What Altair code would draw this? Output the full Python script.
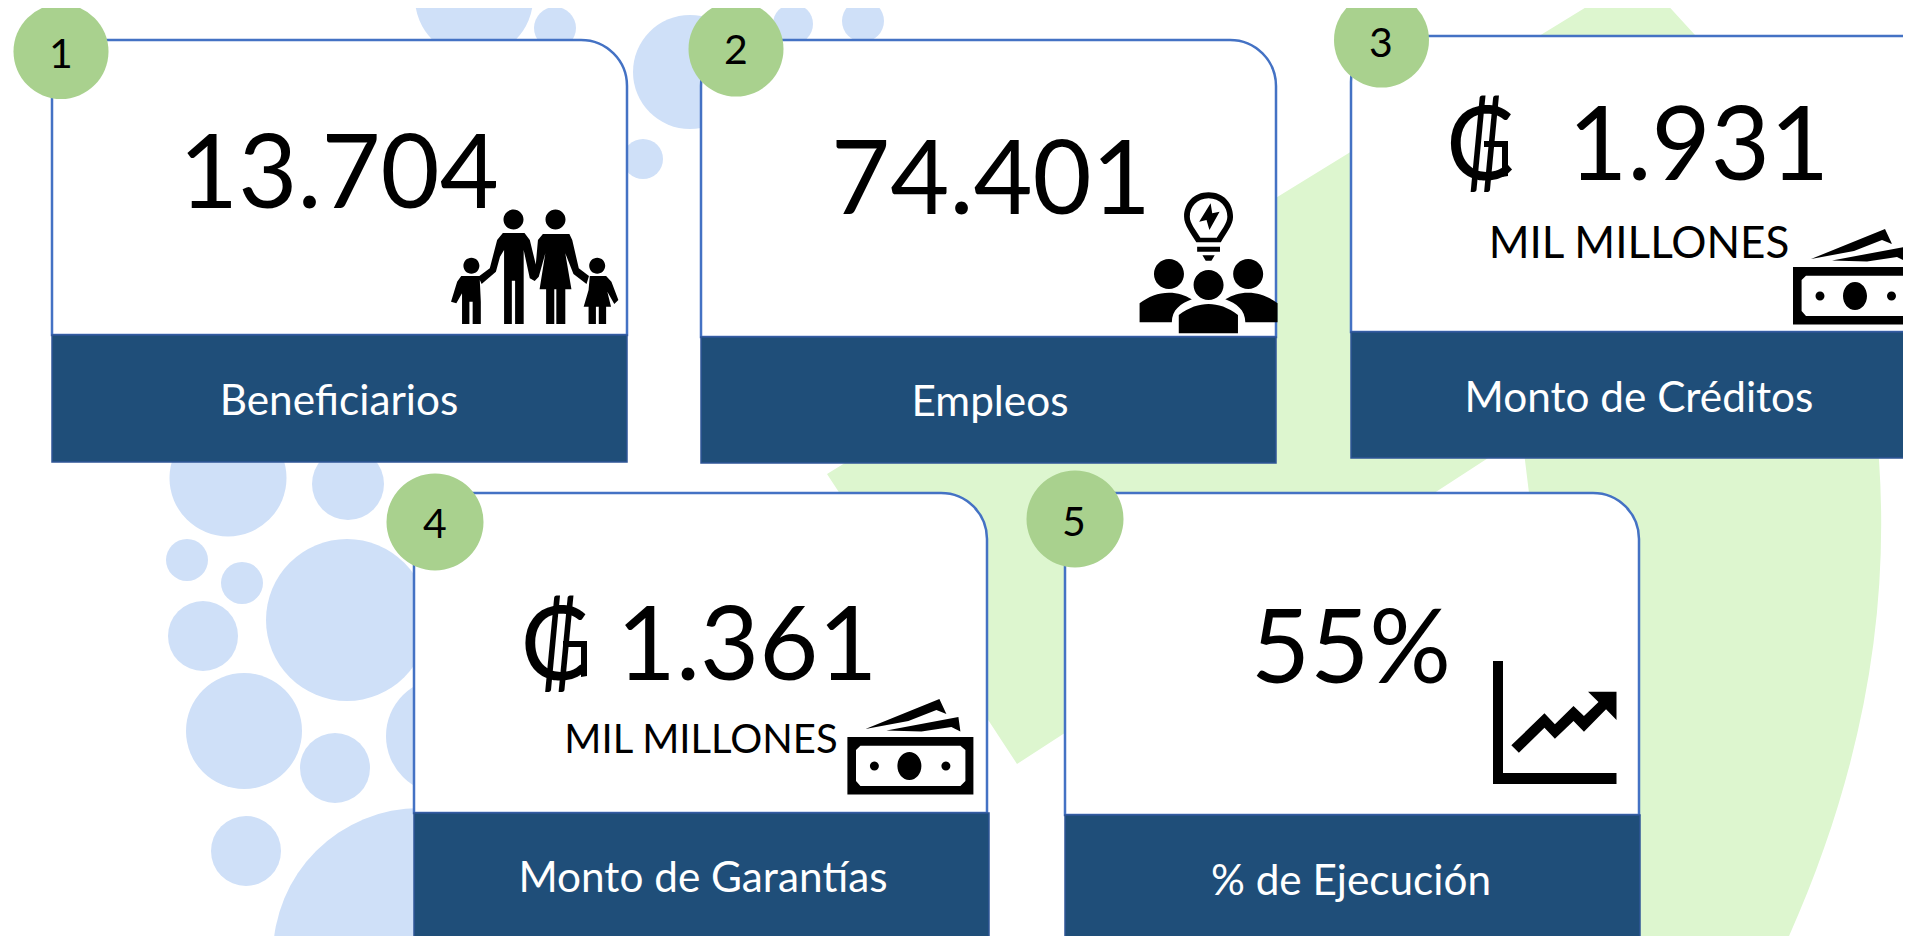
import altair as alt
import pandas as pd

# ---------- content ----------
numbers = ["13.704", "74.401", "₡\u00a0\u00a01.931", "₡\u00a01.361", "55%"]
labels = ["Beneficiarios", "Empleos", "Monto de Créditos", "Monto de Garantías", "% de Ejecución"]
badges = ["1", "2", "3", "4", "5"]
units = ["MIL MILLONES", "MIL MILLONES"]

# ---------- layout (full-size pixels) ----------
card_left = [52, 701, 1351, 414, 1065]
card_right = [627, 1276, 1990, 987, 1639]
card_top = [40, 40, 36, 493, 493]
band_right = [627, 1276, 1990, 989, 1640]
band_top = [335, 337, 332, 813, 815]
card_bottom = [462, 463, 458, 1000, 1000]
badge_x = [61, 736, 1381.5, 435, 1075]
badge_y = [51.5, 49, 40, 522, 519]
badge_r = [47.5, 47.5, 47.5, 48.5, 48.5]
badge_text_x = [61, 736, 1381, 435, 1074]
badge_base = [68, 64, 57, 538, 536]
number_x = [339, 991, 1637.5, 699, 1351]
number_base = [208, 214, 180, 680, 683]
number_size = [102, 102, 102, 102, 102]
label_x = [339, 990, 1639, 703, 1351]
label_base = [415, 416, 412, 892, 895]
unit_x = [1639, 701]
unit_base = [258, 753]
unit_size = [44, 40]

bubble_x = [474, 555, 607, 690, 793, 863, 730, 643, 228, 348, 187, 242, 347, 203, 244, 335, 444, 246, 420]
bubble_y = [-2, 28, -94, 72, 24, 21, -40, 159, 478, 484, 560, 583, 620, 636, 731, 768, 736, 851, 955]
bubble_r = [59, 21, 100, 57, 20, 21, 42, 20, 58.5, 36, 21, 21, 81, 35, 58, 35, 58, 35, 147]

BLUE = "#CFE0F8"
GREEN_BG = "#DDF6CF"
BADGE = "#A9D18E"
NAVY = "#1F4E79"
EDGE = "#4472C4"
FONT = "Lato, 'Noto Sans', 'DejaVu Sans', sans-serif"


# ---------- vector icon helper: absolute pixels to a symbol path ----------
class Icon:
    def __init__(self, cx, cy, half):
        self.cx, self.cy, self.h = cx, cy, half
        self.d = []

    def _p(self, x, y):
        return f"{(x - self.cx) / self.h:.5f},{(y - self.cy) / self.h:.5f}"

    def poly(self, pts):
        self.d.append("M" + "L".join(self._p(x, y) for x, y in pts) + "Z")
        return self

    def curve(self, start, segs):
        s = "M" + self._p(*start)
        for seg in segs:
            if len(seg) == 2:
                s += "L" + self._p(*seg)
            else:
                s += "C" + self._p(seg[0], seg[1]) + " " + self._p(seg[2], seg[3]) + " " + self._p(seg[4], seg[5])
        self.d.append(s + "Z")
        return self

    def ellipse(self, x, y, rx, ry):
        k = 0.5523
        pts = [(x + rx, y), (x + rx, y + k * ry, x + k * rx, y + ry, x, y + ry),
               (x - k * rx, y + ry, x - rx, y + k * ry, x - rx, y),
               (x - rx, y - k * ry, x - k * rx, y - ry, x, y - ry),
               (x + k * rx, y - ry, x + rx, y - k * ry, x + rx, y)]
        return self.curve(pts[0], pts[1:])

    def row(self, color):
        return {"x": self.cx, "y": self.cy, "s": (2 * self.h) ** 2, "path": "".join(self.d), "color": color}


def z1(pts):
    return [(x / 2.45, y / 3) for x, y in pts]


def z2(pts):
    return [(640 + x / 2.45, y / 3) for x, y in pts]


def z5(pts):
    return [(1000 + x / 1.721, 466 + y / 3) for x, y in pts]


# background check mark and ring
bg = Icon(1350, 460, 700)
bg.curve((827, 474), [(1640, -26), (1663, 0), (1695, 35),
                      (1800, 170, 1868, 330, 1879, 460),
                      (1890, 620, 1860, 780, 1785, 945),
                      (1625, 945),
                      (1575, 800, 1545, 620, 1529, 493),
                      (1522, 436), (1017, 764)])

# family
family = Icon(535, 285, 120)
family.ellipse(513.5, 219.5, 10, 10).ellipse(555.5, 219.5, 10, 10)
family.ellipse(471.4, 265.7, 8, 8).ellipse(597.2, 265.7, 8, 8)
family.poly(z1([(1232, 699), (1285, 699), (1298, 720), (1320, 830), (1310, 843), (1298, 835), (1283, 750),
                (1283, 972), (1262, 972), (1262, 842), (1254, 842), (1254, 972), (1235, 972), (1235, 750),
                (1225, 770), (1215, 815), (1180, 852), (1172, 830), (1200, 805), (1218, 720)]))
family.poly(z1([(1330, 702), (1395, 702), (1402, 720), (1418, 805), (1443, 828), (1437, 852), (1405, 822),
                (1385, 760), (1400, 868), (1385, 868), (1385, 972), (1363, 972), (1363, 868), (1358, 868),
                (1358, 972), (1338, 972), (1338, 868), (1322, 868), (1336, 760), (1320, 830), (1310, 830),
                (1318, 720)]))
family.poly(z1([(1130, 828), (1175, 828), (1178, 905), (1178, 972), (1158, 972), (1158, 905), (1150, 905),
                (1150, 972), (1132, 972), (1132, 880), (1118, 910), (1105, 905), (1120, 845)]))
family.poly(z1([(1445, 828), (1485, 828), (1498, 845), (1515, 900), (1505, 912), (1488, 875), (1497, 920),
                (1485, 920), (1485, 972), (1467, 972), (1467, 920), (1460, 920), (1460, 972), (1442, 972),
                (1442, 920), (1430, 920), (1442, 870)]))

# people and bulb
people = Icon(1205, 265, 120)
lx = lambda v: 640 + v / 2.45
people.curve((lx(1393), 577 / 3), [
    (lx(1430), 577 / 3, lx(1453), 610 / 3, lx(1453), 650 / 3),
    (lx(1453), 675 / 3, lx(1435), 700 / 3, lx(1423), 727 / 3),
    (lx(1363), 727 / 3),
    (lx(1350), 700 / 3, lx(1333), 675 / 3, lx(1333), 650 / 3),
    (lx(1333), 610 / 3, lx(1356), 577 / 3, lx(1393), 577 / 3)])
people.curve((lx(1393), 595 / 3), [
    (lx(1365), 595 / 3, lx(1347), 620 / 3, lx(1347), 650 / 3),
    (lx(1347), 670 / 3, lx(1362), 690 / 3, lx(1373), 713 / 3),
    (lx(1413), 713 / 3),
    (lx(1424), 690 / 3, lx(1439), 670 / 3, lx(1439), 650 / 3),
    (lx(1439), 620 / 3, lx(1421), 595 / 3, lx(1393), 595 / 3)])
people.poly(z2([(1398, 610), (1370, 665), (1388, 660), (1395, 690), (1420, 635), (1402, 640)]))
people.poly(z2([(1365, 740), (1421, 740), (1421, 755), (1365, 755)]))
people.poly(z2([(1378, 766), (1408, 766), (1400, 782), (1386, 782)]))
people.ellipse(lx(1296), 822 / 3, 15, 15).ellipse(lx(1490), 822 / 3, 15, 15)
people.ellipse(lx(1393), 855 / 3, 15, 15)
people.curve((lx(1224), 967 / 3), [(lx(1224), 910 / 3),
             (lx(1245), 890 / 3, lx(1270), 878 / 3, lx(1296), 878 / 3),
             (lx(1318), 878 / 3, lx(1335), 885 / 3, lx(1352), 898 / 3),
             (lx(1325), 910 / 3, lx(1303), 930 / 3, lx(1303), 967 / 3)])
people.curve((lx(1562), 967 / 3), [(lx(1562), 910 / 3),
             (lx(1541), 890 / 3, lx(1516), 878 / 3, lx(1490), 878 / 3),
             (lx(1468), 878 / 3, lx(1451), 885 / 3, lx(1434), 898 / 3),
             (lx(1461), 910 / 3, lx(1483), 930 / 3, lx(1483), 967 / 3)])
people.curve((lx(1320), 1000 / 3), [(lx(1320), 945 / 3),
             (lx(1345), 922 / 3, lx(1370), 912 / 3, lx(1393), 912 / 3),
             (lx(1416), 912 / 3, lx(1441), 922 / 3, lx(1465), 945 / 3),
             (lx(1465), 1000 / 3)])


def money(x0, y0):
    m = Icon(x0 + 63, y0 + 10, 80)
    m.poly([(x0, y0), (x0 + 126, y0), (x0 + 126, y0 + 57.5), (x0, y0 + 57.5)])
    m.poly([(x0 + 8.6, y0 + 13), (x0 + 8.6, y0 + 44), (x0 + 13, y0 + 49), (x0 + 113, y0 + 49),
            (x0 + 118, y0 + 44), (x0 + 118, y0 + 13), (x0 + 113, y0 + 8.7), (x0 + 13, y0 + 8.7)])
    m.ellipse(x0 + 62, y0 + 29, 12, 14)
    m.ellipse(x0 + 27, y0 + 29, 4.5, 4.5).ellipse(x0 + 98.5, y0 + 29, 4.5, 4.5)
    m.poly([(x0 + 18, y0 - 8), (x0 + 92, y0 - 38), (x0 + 99, y0 - 23), (x0 + 89, y0 - 27), (x0 + 61, y0 - 16)])
    m.poly([(x0 + 39, y0 - 6.5), (x0 + 111, y0 - 20), (x0 + 113, y0 - 5.5), (x0 + 104, y0 - 10), (x0 + 74, y0 - 5.5)])
    return m


# growth chart
growth = Icon(1555, 722, 80)
growth.poly([(1493, 661), (1503, 661), (1503, 773), (1616.5, 773), (1616.5, 784), (1493, 784)])
growth.poly(z5([(880, 838), (937, 742), (955, 775), (987, 720), (1005, 750), (1030, 708), (1012, 677), (1061, 677),
                (1061, 762), (1043, 730), (1005, 797), (987, 765), (955, 818), (937, 785), (893, 860)]))


# the spur that turns the colon sign of the reference's font into a G shape
def spur(x0, base):
    g = Icon(x0, base - 20, 40)
    g.poly([(x0 - 24, base - 39), (x0, base - 39), (x0, base - 4), (x0 - 6, base - 3), (x0 - 6, base - 33), (x0 - 24, base - 33)])
    return g


# ---------- tables ----------
cards = pd.DataFrame({"l": card_left, "r": card_right, "rb": band_right, "t": card_top, "b": band_top, "e": card_bottom})
texts = pd.concat([
    pd.DataFrame({"x": number_x, "y": number_base, "t": numbers, "fs": number_size, "c": "black"}),
    pd.DataFrame({"x": label_x, "y": label_base, "t": labels, "fs": 42.3, "c": "white"}),
    pd.DataFrame({"x": unit_x, "y": unit_base, "t": units, "fs": unit_size, "c": "black"}),
])
badge_df = pd.DataFrame({"x": badge_x, "y": badge_y, "s": [4 * r ** 2 for r in badge_r]})
badge_txt = pd.DataFrame({"x": badge_text_x, "y": badge_base, "t": badges})
bubbles = pd.DataFrame({"x": bubble_x, "y": bubble_y, "s": [4 * r ** 2 for r in bubble_r]})
bg_df = pd.DataFrame([bg.row(GREEN_BG)])
icons = pd.DataFrame([family.row("black"), people.row("black"), money(1793, 267).row("black"),
                      money(847.4, 737).row("black"), growth.row("black"),
                      spur(1508, 180).row("black"), spur(587, 680).row("black")])

# ---------- scales: one data unit is one page pixel, the chart starts at the 8px page margin ----------
XS = alt.Scale(domain=[8, 1903], nice=False, zero=False)
YS = alt.Scale(domain=[936, 8], nice=False, zero=False)
X = alt.X("x:Q", scale=XS, axis=None)
Y = alt.Y("y:Q", scale=YS, axis=None)
SIZE = alt.Size("s:Q", scale=None, legend=None)


def path_layer(df):
    return alt.Chart(df).mark_point(filled=True, opacity=1, strokeWidth=0, clip=True).encode(
        x=X, y=Y, size=SIZE,
        shape=alt.Shape("path:N", scale=None, legend=None),
        color=alt.Color("color:N", scale=None, legend=None),
    )


green_layer = path_layer(bg_df)
bubble_layer = alt.Chart(bubbles).mark_circle(color=BLUE, opacity=1, clip=True).encode(x=X, y=Y, size=SIZE)
card_layer = alt.Chart(cards).mark_rect(
    fill="white", stroke=EDGE, strokeWidth=2.5, cornerRadiusTopRight=46, cornerRadiusTopLeft=46, clip=True
).encode(x=alt.X("l:Q", scale=XS, axis=None), x2="r:Q", y=alt.Y("t:Q", scale=YS, axis=None), y2="b:Q")
band_layer = alt.Chart(cards).mark_rect(fill=NAVY, stroke="#2F5597", strokeWidth=1.5, clip=True).encode(
    x=alt.X("l:Q", scale=XS, axis=None), x2="rb:Q", y=alt.Y("b:Q", scale=YS, axis=None), y2="e:Q")
text_layer = alt.Chart(texts).mark_text(font=FONT, align="center", baseline="alphabetic", clip=True).encode(
    x=X, y=Y, text="t:N",
    size=alt.Size("fs:Q", scale=None, legend=None),
    color=alt.Color("c:N", scale=None, legend=None),
)
icon_layer = path_layer(icons)
badge_layer = alt.Chart(badge_df).mark_circle(color=BADGE, opacity=1, clip=True).encode(x=X, y=Y, size=SIZE)
badge_text = alt.Chart(badge_txt).mark_text(font=FONT, fontSize=41, color="black", align="center",
                                            baseline="alphabetic").encode(x=X, y=Y, text="t:N")

chart = alt.layer(
    green_layer, bubble_layer, card_layer, band_layer, text_layer, icon_layer, badge_layer, badge_text
).properties(width=1895, height=928, padding=0, background="white",
             autosize=alt.AutoSizeParams(type="none")).configure_view(strokeWidth=0)

chart.save("out.html", embed_options={"renderer": "svg", "actions": False})
